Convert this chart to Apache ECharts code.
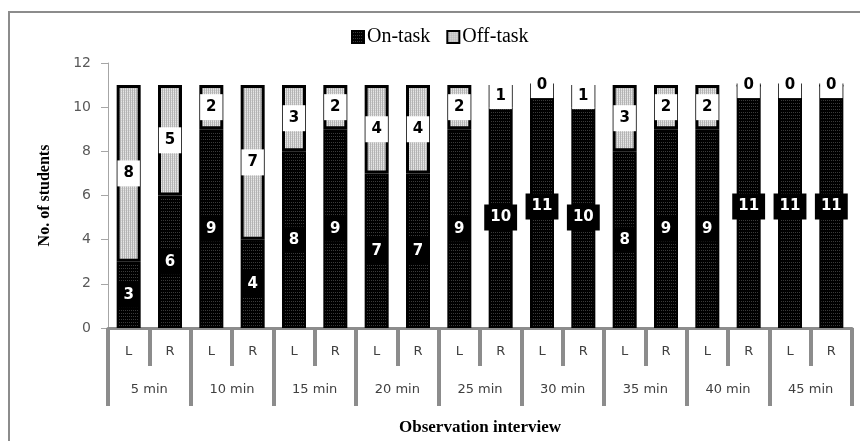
<!DOCTYPE html>
<html>
<head>
<meta charset="utf-8">
<script src="https://cdn.jsdelivr.net/npm/echarts@6/dist/echarts.min.js"></script>
<style>
  html, body { margin: 0; padding: 0; background: #fff; }
  #chart { width: 860px; height: 441px; }
</style>
</head>
<body>
<div id="chart"></div>
<script>
// Observation periods and the two sides observed in each
const groups = ['5 min', '10 min', '15 min', '20 min', '25 min', '30 min', '35 min', '40 min', '45 min'];
const sides = ['L', 'R'];

// Number of students per observation (L, R for each period)
const onTask  = [3, 6, 9, 4, 8, 9, 7, 7, 9, 10, 11, 10, 8, 9, 9, 11, 11, 11];
const offTask = [8, 5, 2, 7, 3, 2, 4, 4, 2, 1, 0, 1, 3, 2, 2, 0, 0, 0];

// Value axis ticks
const yMin = 0, yMax = 12, yStep = 2;

// one category per bar, keyed by period and side
const barCats = groups.flatMap(g => sides.map(s => g + '|' + s));

function makePattern(w, h, draw) {
  const c = document.createElement('canvas');
  c.width = w; c.height = h;
  draw(c.getContext('2d'));
  return { image: c, repeat: 'repeat' };
}

// dark fill with faint dot texture
const onFill = makePattern(4, 3, g => {
  g.fillStyle = '#000'; g.fillRect(0, 0, 4, 3);
  g.fillStyle = '#3a3a3a'; g.fillRect(1, 1, 1, 1); g.fillRect(3, 1, 1, 1);
});
// light grey fill with fine vertical texture
const offFill = makePattern(2, 2, g => {
  g.fillStyle = '#d4d4d4'; g.fillRect(0, 0, 2, 2);
  g.fillStyle = '#b4b4b4'; g.fillRect(0, 0, 1, 2);
  g.fillStyle = '#e6e6e6'; g.fillRect(1, 1, 1, 1);
});

const labelBase = {
  show: true,
  position: 'inside',
  fontFamily: 'DejaVu Sans',
  fontWeight: 'bold',
  fontSize: 15,
  padding: [6, 6, 5, 6]
};

const gray = '#8c8c8c';

const chart = echarts.init(document.getElementById('chart'), null, { renderer: 'canvas' });
chart.setOption({
  animation: false,
  backgroundColor: '#fff',
  graphic: [{
    type: 'rect',
    z: -10,
    silent: true,
    shape: { x: 9, y: 12, width: 900, height: 500 },
    style: { fill: 'none', stroke: gray, lineWidth: 2 }
  }],
  legend: {
    data: ['On-task', 'Off-task'],
    left: 346,
    top: 22,
    itemWidth: 12,
    itemHeight: 12,
    itemGap: 16,
    icon: 'rect',
    textStyle: { fontFamily: 'Liberation Serif', fontSize: 20, color: '#000', padding: [0, 0, 0, -2] }
  },
  grid: { left: 108, right: 8, top: 63, bottom: 112, containLabel: false },
  xAxis: [
    {
      type: 'category',
      data: barCats,
      position: 'bottom',
      axisLine: { show: true, lineStyle: { color: gray, width: 3 } },
      axisTick: { show: true, length: 38, lineStyle: { color: gray, width: 4 } },
      axisLabel: {
        interval: 0,
        margin: 17,
        fontFamily: 'DejaVu Sans',
        fontSize: 13,
        color: '#404040',
        formatter: v => v.split('|')[1]
      },
      splitLine: { show: false }
    },
    {
      type: 'category',
      data: groups,
      position: 'bottom',
      axisLine: { show: false },
      axisTick: { show: true, length: 78, lineStyle: { color: gray, width: 4 } },
      axisLabel: {
        interval: 0,
        margin: 55,
        fontFamily: 'DejaVu Sans',
        fontSize: 13,
        color: '#404040'
      },
      splitLine: { show: false },
      name: 'Observation interview',
      nameLocation: 'middle',
      nameGap: 91,
      nameTextStyle: { fontFamily: 'Liberation Serif', fontWeight: 'bold', fontSize: 17, color: '#000' }
    }
  ],
  yAxis: {
    type: 'value',
    min: yMin,
    max: yMax,
    interval: yStep,
    axisLine: { show: true, lineStyle: { color: '#a6a6a6', width: 1 } },
    axisTick: { show: true, length: 7, lineStyle: { color: '#a6a6a6' } },
    axisLabel: { margin: 17, fontFamily: 'DejaVu Sans', fontSize: 14, color: '#595959' },
    splitLine: { show: false },
    name: 'No. of students',
    nameLocation: 'middle',
    nameGap: 55,
    nameTextStyle: { fontFamily: 'Liberation Serif', fontWeight: 'bold', fontSize: 16, color: '#000' }
  },
  series: [
    {
      name: 'On-task',
      type: 'bar',
      stack: 'total',
      xAxisIndex: 0,
      barWidth: 24,
      data: onTask,
      itemStyle: { color: onFill, borderColor: '#000', borderWidth: 2 },
      label: Object.assign({}, labelBase, { color: '#fff', backgroundColor: '#000' }),
      emphasis: { disabled: true }
    },
    {
      name: 'Off-task',
      type: 'bar',
      stack: 'total',
      xAxisIndex: 0,
      barWidth: 24,
      data: offTask,
      itemStyle: { color: offFill, borderColor: '#000', borderWidth: 3 },
      label: Object.assign({}, labelBase, { color: '#000', backgroundColor: '#fff' }),
      emphasis: { disabled: true }
    }
  ]
});
</script>
</body>
</html>
